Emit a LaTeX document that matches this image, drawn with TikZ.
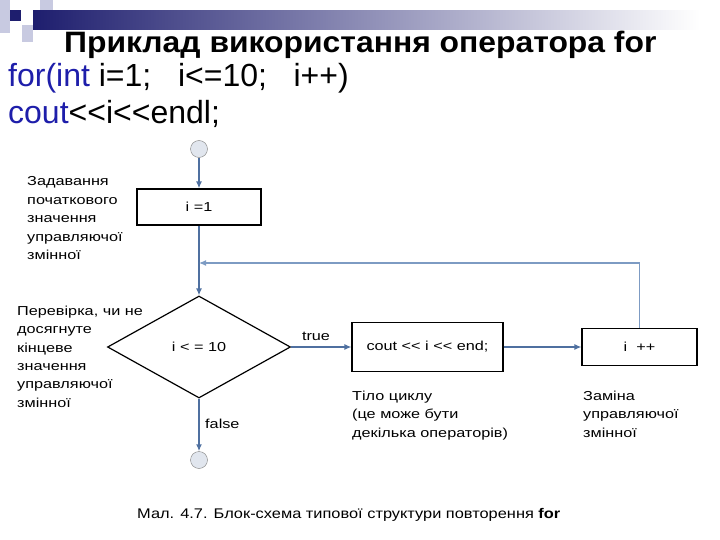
\documentclass[tikz,border=0pt]{standalone}
\usepackage{fontspec}
\setmainfont{Liberation Sans}[Ligatures=TeXOff]
\newfontfamily\diagfont{Liberation Sans}[Ligatures=TeXOff,FakeStretch=1.25]
\newfontfamily\capfont{Liberation Sans}[Ligatures=TeXOff,FakeStretch=1.17]
\newfontfamily\headfont{Liberation Sans}[Ligatures=TeXOff,FakeStretch=1.08]
\usetikzlibrary{shapes.geometric,arrows.meta}
\definecolor{flowblue}{RGB}{79,112,160}
\definecolor{loopblue}{RGB}{125,155,195}
\definecolor{codeblue}{RGB}{30,30,170}
\definecolor{barnavy}{RGB}{30,30,110}
\definecolor{tilegray}{RGB}{200,202,225}
\definecolor{termfill}{RGB}{225,230,238}
\tikzset{
  box/.style={draw, line width=1.2pt, inner sep=0pt, font=\diagfont\fontsize{13}{16}\selectfont},
  check/.style={box, diamond, minimum width=183pt, minimum height=102pt},
  term/.style={circle, draw=gray, fill=termfill, minimum size=17pt, inner sep=0pt},
  flow/.style={draw=flowblue, line width=1.6pt, -{Latex[length=7pt,width=6pt]}},
  tag/.style={inner sep=0pt, font=\diagfont\fontsize{13}{16}\selectfont},
  note/.style={align=left, inner sep=0pt, anchor=north west, font=\diagfont\fontsize{13}{18.4}\selectfont},
  code/.style={anchor=base west, inner sep=0pt, font=\fontsize{32}{34}\selectfont}
}
\begin{document}
\begin{tikzpicture}[x=1pt,y=-1pt]
\useasboundingbox (0,0) rectangle (720,540);
\fill[tilegray] (0,0) rectangle (10,33);
\fill[tilegray] (40,0) rectangle (53,25);
\fill[tilegray] (22,25) rectangle (33,42);
\shade[left color=barnavy, right color=white] (33,11) rectangle (700,30);
\fill[barnavy] (10,10) rectangle (21,21);
\node (title) [anchor=base west, inner sep=0pt, font=\headfont\bfseries\fontsize{29.5}{30}\selectfont] at (64,53) {Приклад використання оператора for};
\node (line1) [code] at (8,87) {\textcolor{codeblue}{for(int} i=1;\ \ \ i<=10;\ \ \ i++)};
\node (line2) [code] at (8,124) {\textcolor{codeblue}{cout}<<i<<endl;};
\node (start) [term] at (199,149) {};
\node (init) [box, minimum width=124pt, minimum height=36pt] at (199,207) {i =1};
\node (check) [check] at (199,347) {i < = 10};
\node (body) [box, minimum width=151pt, minimum height=49pt] at (427.5,347) {cout << i << end;};
\node (incr) [box, minimum width=115pt, minimum height=37pt] at (639.5,347) {i\ \ ++};
\node (stop) [term] at (199,460) {};
\coordinate (join) at (199,263);
\draw[flow] (start) -- (init);
\draw[flow] (init) -- (check);
\draw[flow] (check) -- (stop);
\draw[flow, line width=1.2pt] (check) -- (body);
\draw[flow, line width=1.2pt] (body) -- (incr);
\draw[flow, draw=loopblue, line width=1.2pt] (incr) |- (join);
\node (truelbl) [tag] at (316,336) {true};
\node (falselbl) [tag, anchor=west] at (205,424) {false};
\node (initnote) [note] at (27,176.6) {Задавання\\початкового\\значення\\управляючої\\змінної};
\node (checknote) [note] at (17,305.6) {Перевірка, чи не\\досягнуте\\кінцеве\\значення\\управляючої\\змінної};
\node (bodynote) [note] at (352,390.7) {Тіло циклу\\(це може бути\\декілька операторів)};
\node (incrnote) [note] at (583,390.7) {Заміна\\управляючої\\змінної};
\node (caption) [anchor=base west, inner sep=0pt, font=\capfont\fontsize{14}{16}\selectfont] at (137,518) {Мал. 4.7. Блок-схема типової структури повторення \textbf{for}};
\end{tikzpicture}
\end{document}
